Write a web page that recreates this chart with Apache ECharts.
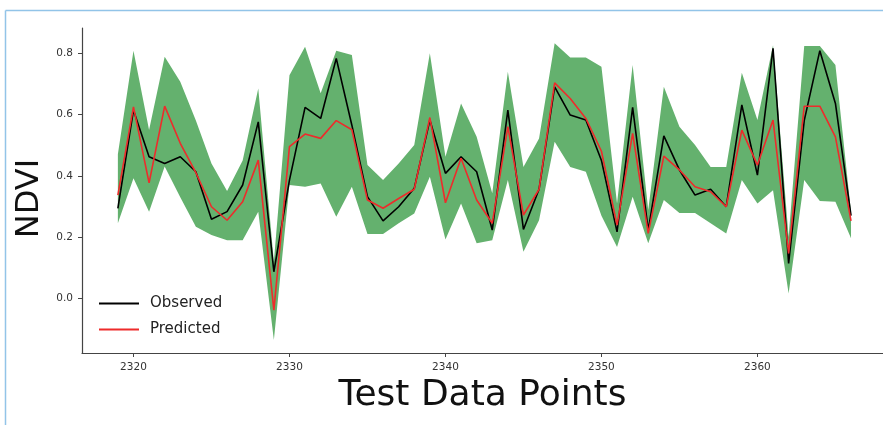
<!DOCTYPE html>
<html>
<head>
<meta charset="utf-8">
<script src="https://cdn.jsdelivr.net/npm/echarts@6/dist/echarts.min.js"></script>
<style>
html,body{margin:0;padding:0;background:#fff;}
#chart{width:883px;height:425px;}
</style>
</head>
<body>
<div id="chart"></div>
<script>
// Test data point indices
var points = [2319,2320,2321,2322,2323,2324,2325,2326,2327,2328,2329,2330,2331,2332,2333,2334,2335,2336,2337,2338,2339,2340,2341,2342,2343,2344,2345,2346,2347,2348,2349,2350,2351,2352,2353,2354,2355,2356,2357,2358,2359,2360,2361,2362,2363,2364,2365,2366];
var observed = [0.294,0.614,0.462,0.44,0.462,0.413,0.258,0.283,0.37,0.576,0.087,0.386,0.623,0.587,0.783,0.565,0.332,0.253,0.299,0.359,0.582,0.408,0.462,0.413,0.223,0.614,0.225,0.356,0.69,0.598,0.582,0.45,0.217,0.623,0.223,0.53,0.419,0.337,0.356,0.299,0.631,0.402,0.816,0.114,0.58,0.808,0.636,0.27];
var predicted = [0.337,0.625,0.377,0.627,0.506,0.41,0.299,0.255,0.315,0.451,-0.038,0.495,0.536,0.522,0.58,0.55,0.321,0.294,0.326,0.356,0.59,0.312,0.457,0.321,0.245,0.56,0.272,0.356,0.703,0.652,0.587,0.48,0.239,0.538,0.212,0.464,0.419,0.364,0.348,0.299,0.549,0.435,0.582,0.147,0.627,0.627,0.527,0.253];
var upper = [0.47,0.808,0.549,0.788,0.707,0.58,0.44,0.35,0.45,0.685,0.12,0.728,0.821,0.669,0.808,0.794,0.435,0.386,0.44,0.5,0.8,0.462,0.636,0.527,0.343,0.739,0.429,0.522,0.832,0.786,0.786,0.756,0.31,0.761,0.288,0.69,0.56,0.5,0.429,0.429,0.736,0.582,0.826,0.2,0.823,0.823,0.761,0.28];
var lower = [0.245,0.392,0.283,0.43,0.33,0.234,0.207,0.19,0.19,0.283,-0.136,0.37,0.364,0.375,0.266,0.364,0.21,0.21,0.245,0.277,0.397,0.192,0.31,0.18,0.19,0.386,0.152,0.255,0.511,0.429,0.413,0.27,0.168,0.332,0.18,0.321,0.279,0.279,0.245,0.212,0.386,0.31,0.353,0.016,0.386,0.318,0.315,0.196];
var xTicks = [2320,2330,2340,2350,2360];
var yTicks = [0.0,0.2,0.4,0.6,0.8];

function pairs(vals){ return points.map(function(p,i){ return [p, vals[i]]; }); }

var FONT = 'DejaVu Sans';
var chart = echarts.init(document.getElementById('chart'), null, {renderer:'canvas'});
chart.setOption({
  animation:false,
  backgroundColor:'#ffffff',
  graphic:[
    {type:'line', shape:{x1:5.5,y1:10.5,x2:883,y2:10.5}, style:{stroke:'#92c4e8',lineWidth:1.5}, silent:true},
    {type:'line', shape:{x1:5.5,y1:10.5,x2:5.5,y2:425}, style:{stroke:'#92c4e8',lineWidth:1.5}, silent:true}
  ],
  grid:{left:82, right:0, top:28, bottom:72, containLabel:false},
  legend:{
    orient:'vertical', left:94, top:290, itemWidth:40, itemHeight:2, itemGap:9, icon:'rect',
    data:['Observed','Predicted'],
    textStyle:{fontFamily:FONT, fontSize:15, color:'#222', padding:[0,0,0,6], lineHeight:17}
  },
  xAxis:{
    type:'value', min:2316.7, max:2368.05,
    name:'Test Data Points', nameLocation:'middle', nameGap:25,
    nameTextStyle:{fontFamily:FONT, fontSize:36, color:'#111'},
    splitLine:{show:false},
    axisLine:{show:true, onZero:false, lineStyle:{color:'#444', width:1.2}},
    axisTick:{show:true, customValues:xTicks, length:4, lineStyle:{color:'#444'}},
    axisLabel:{customValues:xTicks, fontFamily:FONT, fontSize:10.5, color:'#333', margin:9,
      formatter:function(v){ return String(v); }}
  },
  yAxis:{
    type:'value', min:-0.178, max:0.882,
    name:'NDVI', nameLocation:'middle', nameGap:30, nameRotate:90,
    nameTextStyle:{fontFamily:FONT, fontSize:32, color:'#111', padding:[0,0,0,-16]},
    splitLine:{show:false},
    axisLine:{show:true, onZero:false, lineStyle:{color:'#444', width:1.2}},
    axisTick:{show:true, customValues:yTicks, length:4, lineStyle:{color:'#444'}},
    axisLabel:{customValues:yTicks, fontFamily:FONT, fontSize:10.5, color:'#333', margin:9,
      formatter:function(v){ return v.toFixed(1); }}
  },
  series:[
    {name:'band', type:'custom', silent:true, z:1,
      data:[[points[0], lower[0]]],
      renderItem:function(params, api){
        var pts = [];
        for (var i = 0; i < points.length; i++) pts.push(api.coord([points[i], upper[i]]));
        for (var j = points.length - 1; j >= 0; j--) pts.push(api.coord([points[j], lower[j]]));
        return {type:'polygon', shape:{points:pts}, style:{fill:'rgb(100,177,110)', stroke:null}};
      }},
    {name:'Observed', type:'line', data:pairs(observed), symbol:'none',
      lineStyle:{color:'#000000', width:1.6}, itemStyle:{color:'#000000'}, z:3},
    {name:'Predicted', type:'line', data:pairs(predicted), symbol:'none',
      lineStyle:{color:'#ee2b2b', width:1.6}, itemStyle:{color:'#ee2b2b'}, z:4}
  ]
});
</script>
</body>
</html>
